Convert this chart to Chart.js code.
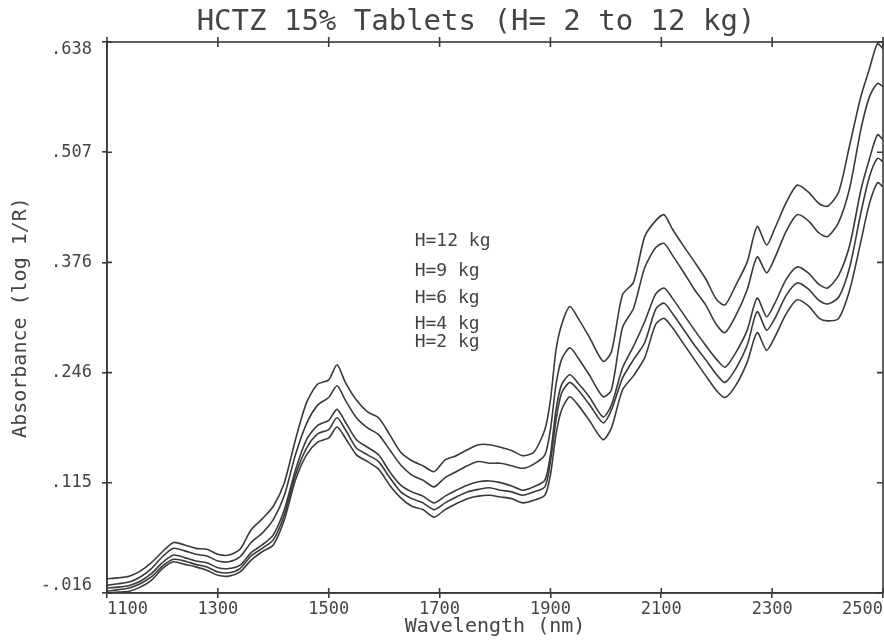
<!DOCTYPE html>
<html><head><meta charset="utf-8">
<script src="https://cdn.jsdelivr.net/npm/chart.js@4"></script>
<style>html,body{margin:0;padding:0;background:#fff}#wrap{width:884px;height:640px}</style>
</head><body><div id="wrap"><canvas id="c" width="884" height="640"></canvas></div>
<script>
const wavelengths = [1100,1120,1140,1160,1180,1200,1220,1240,1260,1280,1300,1320,1340,1360,1380,1400,1420,1440,1460,1480,1500,1515,1530,1550,1570,1590,1610,1630,1650,1670,1690,1710,1730,1750,1770,1790,1810,1830,1850,1870,1890,1900,1910,1920,1935,1950,1970,1995,2010,2030,2050,2070,2090,2105,2120,2140,2160,2180,2200,2215,2235,2255,2273,2290,2305,2325,2345,2365,2385,2400,2420,2440,2460,2475,2490,2500];
const h12 = [0.001,0.002,0.004,0.010,0.020,0.033,0.044,0.041,0.037,0.036,0.030,0.029,0.036,0.059,0.072,0.087,0.115,0.166,0.210,0.232,0.237,0.255,0.234,0.213,0.199,0.192,0.172,0.151,0.141,0.135,0.128,0.142,0.147,0.154,0.160,0.160,0.157,0.153,0.147,0.151,0.178,0.213,0.272,0.302,0.324,0.310,0.288,0.259,0.270,0.338,0.353,0.407,0.426,0.433,0.416,0.396,0.377,0.357,0.332,0.326,0.350,0.377,0.419,0.397,0.417,0.447,0.468,0.460,0.446,0.443,0.460,0.516,0.573,0.605,0.636,0.630];
const h9 = [-0.007,-0.005,-0.003,0.003,0.013,0.027,0.037,0.034,0.030,0.028,0.022,0.021,0.027,0.044,0.055,0.071,0.100,0.148,0.185,0.207,0.216,0.230,0.213,0.192,0.180,0.172,0.154,0.136,0.124,0.118,0.110,0.121,0.128,0.135,0.140,0.138,0.138,0.135,0.132,0.137,0.148,0.178,0.231,0.261,0.275,0.263,0.243,0.217,0.225,0.299,0.322,0.370,0.394,0.399,0.385,0.365,0.344,0.326,0.302,0.293,0.314,0.344,0.383,0.364,0.382,0.413,0.433,0.426,0.411,0.407,0.424,0.465,0.534,0.572,0.589,0.585];
const h6 = [-0.010,-0.009,-0.007,-0.002,0.007,0.020,0.029,0.026,0.022,0.020,0.014,0.013,0.017,0.032,0.041,0.053,0.083,0.130,0.166,0.183,0.189,0.202,0.187,0.166,0.157,0.148,0.128,0.112,0.104,0.099,0.091,0.099,0.106,0.112,0.116,0.117,0.115,0.111,0.106,0.110,0.118,0.148,0.201,0.231,0.243,0.233,0.217,0.193,0.207,0.251,0.277,0.306,0.339,0.346,0.334,0.315,0.296,0.278,0.261,0.252,0.270,0.296,0.334,0.312,0.328,0.356,0.371,0.364,0.350,0.346,0.361,0.397,0.462,0.498,0.528,0.522];
const h4 = [-0.014,-0.012,-0.010,-0.005,0.003,0.016,0.024,0.022,0.018,0.015,0.009,0.008,0.013,0.028,0.037,0.047,0.077,0.124,0.156,0.173,0.178,0.192,0.178,0.156,0.148,0.140,0.121,0.104,0.096,0.091,0.083,0.091,0.098,0.104,0.107,0.109,0.106,0.104,0.100,0.104,0.110,0.140,0.189,0.221,0.234,0.225,0.208,0.186,0.201,0.239,0.261,0.281,0.321,0.328,0.316,0.297,0.278,0.261,0.243,0.234,0.251,0.278,0.318,0.296,0.310,0.337,0.352,0.345,0.331,0.327,0.335,0.371,0.435,0.477,0.500,0.496];
const h2 = [-0.016,-0.015,-0.014,-0.009,-0.001,0.013,0.021,0.018,0.015,0.011,0.005,0.004,0.009,0.023,0.033,0.041,0.071,0.118,0.148,0.163,0.168,0.181,0.168,0.148,0.140,0.131,0.112,0.097,0.087,0.083,0.074,0.083,0.090,0.096,0.099,0.100,0.098,0.096,0.091,0.094,0.100,0.124,0.172,0.201,0.217,0.207,0.189,0.166,0.180,0.225,0.242,0.263,0.303,0.310,0.299,0.280,0.261,0.242,0.224,0.216,0.231,0.258,0.293,0.272,0.288,0.315,0.332,0.325,0.310,0.307,0.310,0.344,0.401,0.445,0.471,0.466];
const seriesNames = ['H=12 kg','H=9 kg','H=6 kg','H=4 kg','H=2 kg'];
const xTickValues = [1100,1300,1500,1700,1900,2100,2300,2500];
const yTickValues = [-0.016,0.1148,0.2456,0.3764,0.5072,0.638];
const titleText = 'HCTZ 15% Tablets (H= 2 to 12 kg)';
const xTitle = 'Wavelength (nm)';
const yTitle = 'Absorbance (log 1/R)';

const INK = '#3a3a3a';
const TXT = '#444';
const MONO = '"DejaVu Sans Mono", "Liberation Mono", monospace';
const allSeries = [h12,h9,h6,h4,h2];

const datasets = allSeries.map((s, k) => ({
  label: seriesNames[k],
  data: wavelengths.map((w, i) => ({x: w, y: s[i]})),
  borderColor: INK,
  borderWidth: 1.6,
  pointRadius: 0,
  tension: 0.25,
  fill: false
}));

const notePos = [[1655,0.401],[1655,0.366],[1655,0.334],[1655,0.303],[1655,0.282]];

const framePlugin = {
  id: 'frame',
  afterDraw(chart) {
    const {ctx, chartArea: a, scales} = chart;
    ctx.save();
    ctx.strokeStyle = INK;
    ctx.lineWidth = 1.6;
    ctx.strokeRect(a.left, a.top, a.right - a.left, a.bottom - a.top);
    ctx.beginPath();
    scales.x.ticks.forEach(t => {
      const p = scales.x.getPixelForValue(t.value);
      ctx.moveTo(p, a.bottom); ctx.lineTo(p, a.bottom - 5);
      ctx.moveTo(p, a.top - 5); ctx.lineTo(p, a.top + 5);
    });
    scales.y.ticks.forEach(t => {
      const p = scales.y.getPixelForValue(t.value);
      ctx.moveTo(a.left, p); ctx.lineTo(a.left + 5, p);
      ctx.moveTo(a.right - 6, p); ctx.lineTo(a.right, p);
    });
    ctx.stroke();
    ctx.fillStyle = TXT;
    ctx.font = '29px ' + MONO;
    ctx.textAlign = 'center';
    ctx.textBaseline = 'middle';
    ctx.fillText(titleText, 476, 22);
    ctx.font = '18px ' + MONO;
    ctx.textAlign = 'left';
    seriesNames.forEach((n, k) => {
      ctx.fillText(n, scales.x.getPixelForValue(notePos[k][0]), scales.y.getPixelForValue(notePos[k][1]));
    });
    ctx.restore();
  }
};

const fmt = v => Number(v).toFixed(3).replace(/^(-?)0\./, '$1.');

new Chart(document.getElementById('c'), {
  type: 'line',
  data: {datasets},
  plugins: [framePlugin],
  options: {
    responsive: false,
    animation: false,
    layout: {padding: {top: 42, right: 1, left: 0, bottom: 0}},
    plugins: {legend: {display: false}, tooltip: {enabled: false}, title: {display: false}},
    scales: {
      x: {
        type: 'linear', min: 1100, max: 2500,
        afterBuildTicks: s => { s.ticks = xTickValues.map(v => ({value: v})); },
        afterFit: s => { s.height = 47; },
        ticks: {autoSkip: false, maxRotation: 0, align: 'inner', padding: 1, color: TXT,
          font: {family: MONO, size: 17}, callback: v => String(v)},
        grid: {drawOnChartArea: false, drawTicks: true, tickLength: 5, color: INK, lineWidth: 1.6},
        border: {display: true, color: INK, width: 1.6},
        title: {display: true, text: xTitle, color: TXT, font: {family: MONO, size: 20}, padding: {top: 0, bottom: 1}}
      },
      y: {
        type: 'linear', min: -0.016, max: 0.638,
        afterBuildTicks: s => { s.ticks = yTickValues.map(v => ({value: v})); },
        afterFit: s => { s.width = 107; },
        ticks: {autoSkip: false, padding: 10, color: TXT, font: {family: MONO, size: 17, lineHeight: 0.9},
          callback: (v, i, arr) => {
            const s = fmt(v);
            if (i === arr.length - 1) return ['', s];
            if (i === 0) return [s, ''];
            return s;
          }},
        grid: {drawOnChartArea: false, drawTicks: true, tickLength: 5, color: INK, lineWidth: 1.6},
        border: {display: true, color: INK, width: 1.6},
        title: {display: true, text: yTitle, color: TXT, font: {family: MONO, size: 20}, padding: {top: 9, bottom: 0}}
      }
    }
  }
});
</script></body></html>
